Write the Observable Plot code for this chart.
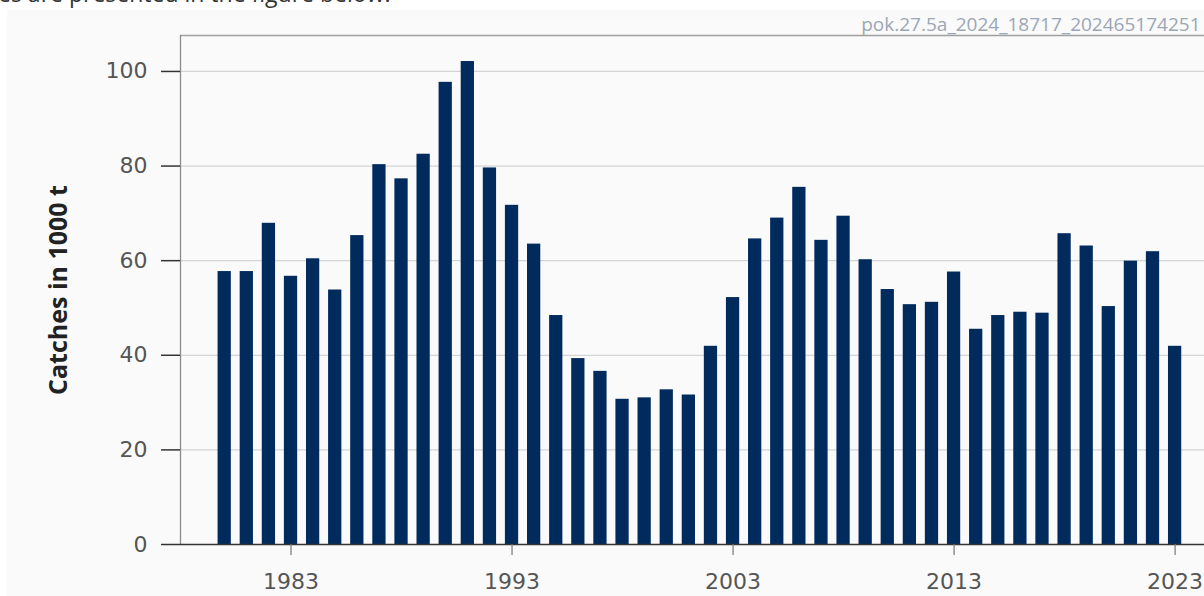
<!DOCTYPE html>
<html>
<head>
<meta charset="utf-8">
<script src="https://cdn.jsdelivr.net/npm/d3@7"></script>
<script src="https://cdn.jsdelivr.net/npm/@observablehq/plot@0.6"></script>
<style>
  html, body { margin: 0; padding: 0; background: #ffffff; width: 1204px; height: 596px; overflow: hidden; }
  #intro { position: absolute; left: -2px; top: 0; height: 9px; width: 1204px; overflow: hidden; }
  #intro span { position: absolute; top: -18px; left: 0; font-family: "Open Sans", sans-serif; font-size: 23px; line-height: 23px; color: #333; white-space: nowrap; }
  #chart { position: absolute; left: 7px; top: 10px; }
</style>
</head>
<body>
<div id="intro"><span>es are presented in the figure below.</span></div>
<div id="chart"></div>
<script>
const years = [1980,1981,1982,1983,1984,1985,1986,1987,1988,1989,1990,1991,1992,1993,1994,1995,1996,1997,1998,1999,2000,2001,2002,2003,2004,2005,2006,2007,2008,2009,2010,2011,2012,2013,2014,2015,2016,2017,2018,2019,2020,2021,2022,2023];
const catches = [57.7,57.7,67.9,56.7,60.4,53.8,65.3,80.3,77.3,82.5,97.7,102.1,79.6,71.7,63.5,48.4,39.3,36.6,30.7,31.0,32.7,31.6,41.9,52.2,64.6,69.0,75.5,64.3,69.4,60.2,53.9,50.7,51.2,57.6,45.5,48.4,49.1,48.9,65.7,63.1,50.3,59.9,61.9,41.9];
const yTicks = [0,20,40,60,80,100];
const xTicks = [1983,1993,2003,2013,2023];
const yLabel = "Catches in 1000 t";
const stamp = "pok.27.5a_2024_18717_202465174251";
const xDomain = [1978, 2024.33];
const yDomain = [0, 107.6];

const data = years.map((year, i) => ({year, value: catches[i]}));

const tickFont = "'DejaVu Sans', sans-serif";

const plot = Plot.plot({
  width: 1197,
  height: 586,
  marginLeft: 173,
  marginRight: 0,
  marginTop: 25,
  marginBottom: 52,
  style: {background: "#fafafa", fontFamily: "'Open Sans', sans-serif", overflow: "visible"},
  x: {domain: xDomain},
  y: {domain: yDomain},
  marks: [
    Plot.gridY(yTicks.filter(t => t > 0), {stroke: "#d4d4d4", strokeOpacity: 1, strokeWidth: 1.2}),
    Plot.ruleY([yDomain[1]], {stroke: "#a0a0a0", strokeWidth: 1.5}),
    Plot.ruleX([xDomain[0]], {stroke: "#8c8c8c", strokeWidth: 1.3}),
    Plot.rectY(data, {x1: d => d.year - 0.3, x2: d => d.year + 0.3, y: "value", fill: "#012b5d"}),
    Plot.ruleY([0], {stroke: "#333", strokeWidth: 1.5}),
    Plot.axisY({ticks: yTicks, tickSize: 19, tickPadding: 14, stroke: "#333", strokeWidth: 1.5, fill: "#555", fontSize: 22, fontFamily: tickFont, label: null}),
    Plot.axisX({ticks: xTicks, tickFormat: d => String(d), tickSize: 11, tickPadding: 18, stroke: "#777", strokeWidth: 1.2, fill: "#555", fontSize: 22, fontFamily: tickFont, label: null}),
    Plot.text([yLabel], {frameAnchor: "left", textAnchor: "middle", dx: -122, rotate: -90, fontSize: 25, fontWeight: "bold", fill: "#222"}),
    Plot.text([stamp], {frameAnchor: "top-right", dx: -4, dy: -18, fontSize: 19, fill: "#9ba6b6"})
  ]
});
document.getElementById("chart").appendChild(plot);
</script>
</body>
</html>
